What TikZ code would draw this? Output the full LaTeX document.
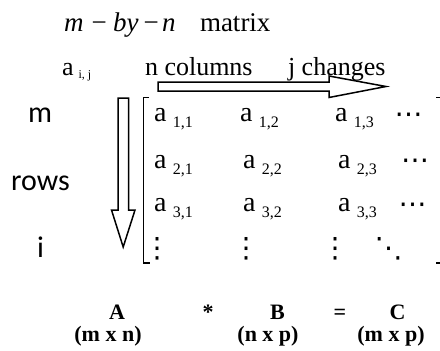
\documentclass[tikz,border=0pt]{standalone}
\usepackage{fontspec}
\setmainfont{Liberation Serif}
\newfontfamily\sanslab{Carlito}
\newfontfamily\dotfont{DejaVu Sans}
\newcommand\fsz[1]{\fontsize{#1}{#1}\selectfont}
\newcommand\matent[1]{{\fsz{28}a}\hspace{6.5pt}\raisebox{-6.5pt}{\fsz{16}#1}}
\tikzset{
  txt/.style={inner sep=0pt, outer sep=0pt, anchor=base west},
  ctxt/.style={inner sep=0pt, outer sep=0pt, anchor=base},
  dotsym/.style={ctxt, font=\dotfont\fsz{28}},
  blockarrow/.style={draw=black, line width=1.5pt, fill=white, line join=miter},
  brack/.style={draw=black, line width=1.2pt},
  side/.style={ctxt, font=\sanslab\fsz{30}},
  bottom/.style={ctxt, font=\bfseries\fsz{22}},
  ttl/.style={txt, font=\fsz{27}}
}
\begin{document}
\begin{tikzpicture}[x=1pt,y=-1pt]
\useasboundingbox[fill=white] (0,0) rectangle (440,351);
% title
\node[ttl] (t1) at (64,31) {\textit{m}};
\node[ttl] (t2) at (91.5,31) {−};
\node[ttl] (t3) at (113,31) {\textit{by}};
\node[ttl] (t4) at (143.5,31) {−};
\node[ttl] (t5) at (162,31) {\textit{n}};
\node[ttl] (t6) at (200,31) {matrix};
% top labels
\node[txt, font=\fsz{26}] (aij) at (62,75) {a\hspace{5pt}\raisebox{-3pt}{\fsz{12}i, j}};
\node[txt, font=\fsz{26}] (ncol) at (145,75) {n columns};
\node[txt, font=\fsz{26}] (jch) at (288,75) {j changes};
% block arrows
\draw[blockarrow] (158,82) -- (329,82) -- (329,76) -- (386,86.5) -- (329,97.5) -- (329,91) -- (158,91) -- cycle;
\draw[blockarrow] (118,98) -- (128.5,98) -- (128.5,210) -- (135,210) -- (123.2,247) -- (111.5,210) -- (118,210) -- cycle;
% brackets
\draw[brack] (149,97.5) -- (143.5,97.5) -- (143.5,263) -- (150,263);
\draw[brack] (436,97.5) -- (441,97.5);
\draw[brack] (436,263) -- (441,263);
% side labels
\node[side] (lm) at (40,122) {m};
\node[side] (lrows) at (40.5,190) {rows};
\node[side] (li) at (40.5,257) {i};
% matrix entries
\node[txt] (a11) at (154,121) {\matent{1,1}};
\node[txt] (a12) at (240,121) {\matent{1,2}};
\node[txt] (a13) at (335,121) {\matent{1,3}};
\node[txt] (a21) at (154,168) {\matent{2,1}};
\node[txt] (a22) at (243,168) {\matent{2,2}};
\node[txt] (a23) at (338,168) {\matent{2,3}};
\node[txt] (a31) at (154,211) {\matent{3,1}};
\node[txt] (a32) at (243,211) {\matent{3,2}};
\node[txt] (a33) at (338,211) {\matent{3,3}};
\node[dotsym] (c1) at (408.5,123.5) {⋯};
\node[dotsym] (c2) at (415,169.5) {⋯};
\node[dotsym] (c3) at (412.5,213.5) {⋯};
\node[dotsym] (v1) at (157,257) {⋮};
\node[dotsym] (v2) at (246,257) {⋮};
\node[dotsym] (v3) at (335,257) {⋮};
\node[dotsym] (dd) at (388.5,257) {⋱};
% bottom
\node[bottom] (bA) at (117,319) {A};
\node[bottom] (bstar) at (208,319) {*};
\node[bottom] (bB) at (277.5,319) {B};
\node[bottom] (beq) at (340,319) {=};
\node[bottom] (bC) at (397.5,319) {C};
\node[bottom] (dA) at (108,341) {(m x n)};
\node[bottom] (dB) at (268,341) {(n x p)};
\node[bottom] (dC) at (391,341) {(m x p)};
\end{tikzpicture}
\end{document}
